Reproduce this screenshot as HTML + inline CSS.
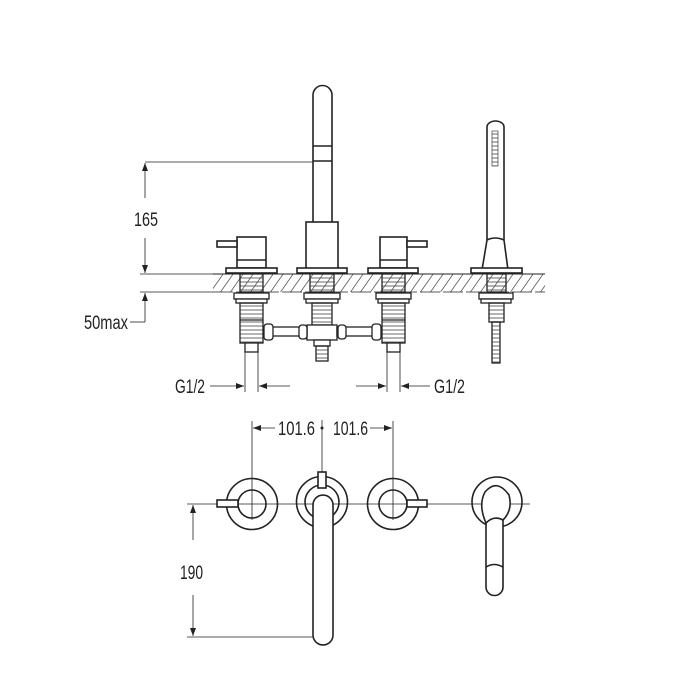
<!DOCTYPE html>
<html><head><meta charset="utf-8"><style>
html,body{margin:0;padding:0;background:#fff;width:700px;height:700px;overflow:hidden}
svg{display:block}
text{font-family:"Liberation Sans",sans-serif;font-size:19px;fill:#222}
</style></head><body>
<svg width="700" height="700" viewBox="0 0 700 700" xmlns="http://www.w3.org/2000/svg">
<defs>
<pattern id="hatch" width="10" height="19" patternUnits="userSpaceOnUse" patternTransform="skewX(-35)">
<line x1="5" y1="0" x2="5" y2="19" stroke="#333" stroke-width="0.8"/>
</pattern>
<pattern id="thr" width="4" height="4" patternUnits="userSpaceOnUse">
<line x1="0" y1="2" x2="4" y2="2" stroke="#444" stroke-width="0.8"/>
</pattern>
<marker id="ar" markerWidth="8" markerHeight="6" refX="8" refY="3" orient="auto" markerUnits="userSpaceOnUse"><path d="M0,0 L8,3 L0,6 z" fill="#222"/></marker>
</defs>
<g stroke="#222" fill="none" stroke-width="1.6">
<rect x="213" y="274" width="332" height="18" fill="url(#hatch)" stroke="none"/>
<line x1="213" y1="274" x2="545" y2="274" stroke-width="1"/>
<line x1="213" y1="292" x2="545" y2="292" stroke-width="0.8" stroke-dasharray="20 3"/>
<path d="M313,222 V95 A9.5,9.5 0 0 1 332,95 V222" fill="#fff"/>
<line x1="313" y1="146" x2="332" y2="146"/><line x1="313" y1="161" x2="332" y2="161"/>
<rect x="306" y="222" width="32" height="50" fill="#fff"/>
<rect x="297" y="268" width="50" height="5" fill="#fff"/>
<rect x="237" y="237" width="29" height="31" fill="#fff"/><line x1="237" y1="260" x2="266" y2="260"/>
<rect x="217" y="241" width="20" height="6" fill="#fff"/>
<rect x="226" y="268" width="51" height="5" fill="#fff"/>
<rect x="380" y="237" width="27" height="31" fill="#fff"/><line x1="380" y1="260" x2="407" y2="260"/>
<rect x="407" y="241" width="20" height="6" fill="#fff"/>
<rect x="368" y="268" width="50" height="5" fill="#fff"/>
<path d="M487,240 V127 A8.5,6 0 0 1 504,127 V240" fill="#fff"/>
<path d="M487,240 Q495,236 504,240 L508,270 H482 Z" fill="#fff"/>
<rect x="471" y="268" width="51" height="5" fill="#fff"/>
<rect x="492" y="131" width="6" height="35" fill="url(#thr)" stroke-width="0.6"/>
<g stroke-width="1.3">
<rect x="240" y="274" width="23" height="18" fill="url(#thr)"/>
<rect x="234" y="293" width="35" height="6" fill="#fff"/><rect x="236" y="299" width="31" height="4" fill="#fff"/>
<rect x="240" y="303" width="23" height="40" fill="url(#thr)"/><line x1="240" y1="320" x2="263" y2="320"/>
<rect x="245" y="343" width="13" height="9" fill="#fff"/>
<rect x="310" y="274" width="24" height="18" fill="url(#thr)"/>
<rect x="304" y="293" width="36" height="6" fill="#fff"/><rect x="306" y="299" width="32" height="4" fill="#fff"/>
<rect x="312" y="303" width="20" height="22" fill="url(#thr)"/>
<rect x="307" y="325" width="30" height="15" fill="#fff"/>
<rect x="314" y="340" width="16" height="6" fill="#fff"/><rect x="316" y="346" width="12" height="15" fill="url(#thr)"/>
<rect x="382" y="274" width="23" height="18" fill="url(#thr)"/>
<rect x="376" y="293" width="35" height="6" fill="#fff"/><rect x="378" y="299" width="31" height="4" fill="#fff"/>
<rect x="382" y="303" width="23" height="40" fill="url(#thr)"/><line x1="382" y1="320" x2="405" y2="320"/>
<rect x="387" y="343" width="13" height="9" fill="#fff"/>
<rect x="487" y="274" width="19" height="18" fill="url(#thr)"/>
<rect x="479" y="293" width="34" height="6" fill="#fff"/><rect x="481" y="299" width="30" height="4" fill="#fff"/>
<rect x="489" y="303" width="15" height="19" fill="url(#thr)"/>
<rect x="492" y="322" width="8" height="41" fill="url(#thr)"/>
<rect x="270" y="327" width="37" height="9" fill="#fff"/>
<rect x="337" y="327" width="38" height="9" fill="#fff"/>
<rect x="264" y="324" width="9" height="16" rx="3" fill="#fff"/>
<rect x="299" y="325" width="8" height="14" rx="3" fill="#fff"/>
<rect x="338" y="325" width="8" height="14" rx="3" fill="#fff"/>
<rect x="372" y="324" width="9" height="16" rx="3" fill="#fff"/>
</g>
<g stroke-width="0.8">
<line x1="145" y1="162" x2="313" y2="162"/>
<line x1="145" y1="198" x2="145" y2="163" marker-end="url(#ar)"/>
<line x1="145" y1="238" x2="145" y2="273" marker-end="url(#ar)"/>
<line x1="140" y1="274" x2="213" y2="274"/>
<line x1="140" y1="292" x2="213" y2="292"/>
<line x1="145" y1="322" x2="145" y2="293" marker-end="url(#ar)"/>
<line x1="130" y1="322" x2="145" y2="322"/>
<line x1="245" y1="352" x2="245" y2="392"/><line x1="258" y1="352" x2="258" y2="392"/>
<line x1="210" y1="386" x2="244" y2="386" marker-end="url(#ar)"/>
<line x1="290" y1="386" x2="259" y2="386" marker-end="url(#ar)"/>
<line x1="387" y1="352" x2="387" y2="392"/><line x1="400" y1="352" x2="400" y2="392"/>
<line x1="356" y1="386" x2="386" y2="386" marker-end="url(#ar)"/>
<line x1="430" y1="386" x2="401" y2="386" marker-end="url(#ar)"/>
<line x1="252" y1="421" x2="252" y2="520"/>
<line x1="322" y1="420" x2="322" y2="475"/>
<line x1="393" y1="421" x2="393" y2="520"/>
<line x1="187" y1="504" x2="530" y2="504"/>
<line x1="275" y1="428" x2="253" y2="428" marker-end="url(#ar)"/>
<line x1="370" y1="428" x2="392" y2="428" marker-end="url(#ar)"/>
<line x1="193" y1="540" x2="193" y2="505" marker-end="url(#ar)"/>
<line x1="193" y1="595" x2="193" y2="636" marker-end="url(#ar)"/>
<line x1="187" y1="637" x2="315" y2="637"/>
</g>
<circle cx="322" cy="428" r="1.5" fill="#222" stroke="none"/>
<circle cx="252" cy="504" r="25.5" fill="none"/><circle cx="252" cy="504" r="14"/>
<rect x="217" y="500" width="21" height="7" fill="#fff"/>
<circle cx="393" cy="504" r="25.5"/><circle cx="393" cy="504" r="14"/>
<rect x="407" y="500" width="20" height="7" fill="#fff"/>
<circle cx="322" cy="502" r="25.5"/><circle cx="322" cy="502" r="17"/>
<rect x="318" y="472" width="8" height="16" fill="#fff"/>
<path d="M313,505 A10,10 0 0 1 333,505 V635 A10,10 0 0 1 313,635 Z" fill="#fff"/>
<circle cx="497" cy="502" r="25"/>
<path d="M486,523 Q478,505 485,492 Q497,478 509,495 Q513,510 503,520" fill="#fff"/>
<path d="M486,523 Q494,515 503,520 V587 A8.5,8.5 0 0 1 486,587 Z" fill="#fff"/>
<path d="M486,567 Q494,562 503,567"/>
</g>
<g>
<text x="134" y="226" textLength="24" lengthAdjust="spacingAndGlyphs">165</text>
<text x="84" y="329" textLength="44" lengthAdjust="spacingAndGlyphs">50max</text>
<text x="175" y="393" textLength="30" lengthAdjust="spacingAndGlyphs">G1/2</text>
<text x="434" y="393" textLength="31" lengthAdjust="spacingAndGlyphs">G1/2</text>
<text x="278" y="435" textLength="37" lengthAdjust="spacingAndGlyphs">101.6</text>
<text x="333" y="435" textLength="35" lengthAdjust="spacingAndGlyphs">101.6</text>
<rect x="178" y="558" width="28" height="24" fill="#fff"/>
<text x="180" y="579" textLength="23" lengthAdjust="spacingAndGlyphs">190</text>
</g>
</svg>
</body></html>
